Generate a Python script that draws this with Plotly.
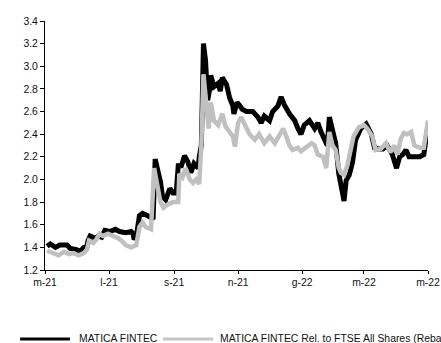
import plotly.graph_objects as go

# MATICA FINTEC (black)
dates_abs = ["2021-05-03","2021-05-06","2021-05-11","2021-05-15","2021-05-22","2021-05-25","2021-05-31",
 "2021-06-03","2021-06-07","2021-06-10","2021-06-11","2021-06-13","2021-06-18","2021-06-21","2021-06-24",
 "2021-06-27","2021-07-02","2021-07-07","2021-07-11","2021-07-17","2021-07-22","2021-07-24","2021-07-25",
 "2021-07-27","2021-07-30","2021-08-02","2021-08-07","2021-08-10","2021-08-12","2021-08-14","2021-08-16",
 "2021-08-19","2021-08-21","2021-08-24","2021-08-28","2021-08-31","2021-09-03","2021-09-05","2021-09-08",
 "2021-09-11","2021-09-14","2021-09-17","2021-09-20","2021-09-24","2021-09-25","2021-09-27","2021-09-29",
 "2021-10-01","2021-10-03","2021-10-05","2021-10-06","2021-10-09","2021-10-13","2021-10-15","2021-10-17",
 "2021-10-21","2021-10-24","2021-10-27","2021-10-28","2021-10-31","2021-11-02","2021-11-05","2021-11-09",
 "2021-11-15","2021-11-20","2021-11-23","2021-11-26","2021-12-01","2021-12-04","2021-12-09","2021-12-12",
 "2021-12-15","2021-12-20","2021-12-25","2021-12-28","2021-12-31","2022-01-03","2022-01-08","2022-01-13",
 "2022-01-16","2022-01-19","2022-01-22","2022-01-25","2022-01-27","2022-01-30","2022-02-02","2022-02-05",
 "2022-02-10","2022-02-12","2022-02-15","2022-02-18","2022-02-21","2022-02-26","2022-03-03","2022-03-08",
 "2022-03-11","2022-03-14","2022-03-19","2022-03-23","2022-03-28","2022-04-01","2022-04-04","2022-04-07",
 "2022-04-10","2022-04-13","2022-04-18","2022-04-23","2022-04-27","2022-05-01"]
values_abs = [1.41,1.43,1.40,1.42,1.42,1.39,1.38,
 1.36,1.40,1.41,1.46,1.50,1.48,1.50,1.49,
 1.55,1.54,1.56,1.54,1.53,1.54,1.52,1.47,
 1.50,1.68,1.70,1.68,1.66,1.65,2.18,2.10,
 1.98,1.85,1.82,1.92,1.88,1.88,2.12,2.12,
 2.21,2.16,2.06,2.14,2.10,2.20,2.30,3.20,
 3.05,2.70,2.80,2.92,2.82,2.85,2.78,2.90,
 2.84,2.72,2.65,2.58,2.68,2.66,2.62,2.60,
 2.60,2.55,2.50,2.56,2.52,2.60,2.65,2.73,
 2.66,2.58,2.52,2.45,2.40,2.48,2.52,2.45,
 2.50,2.42,2.35,2.30,2.55,2.45,2.32,2.05,
 1.81,1.99,2.04,2.15,2.35,2.45,2.49,2.40,
 2.28,2.27,2.27,2.30,2.22,2.10,2.20,2.22,
 2.26,2.20,2.20,2.20,2.22,2.48]

# MATICA FINTEC Rel. to FTSE All Shares (grey)
dates_rel = ["2021-05-03","2021-05-06","2021-05-11","2021-05-14","2021-05-19","2021-05-24","2021-05-28",
 "2021-06-02","2021-06-07","2021-06-10","2021-06-12","2021-06-16","2021-06-19","2021-06-22","2021-06-25",
 "2021-06-30","2021-07-05","2021-07-10","2021-07-14","2021-07-17","2021-07-22","2021-07-27","2021-07-30",
 "2021-08-02","2021-08-05","2021-08-10","2021-08-13","2021-08-16","2021-08-19","2021-08-22","2021-08-26",
 "2021-08-31","2021-09-05","2021-09-06","2021-09-09","2021-09-12","2021-09-16","2021-09-19","2021-09-22",
 "2021-09-25","2021-09-27","2021-09-29","2021-10-01","2021-10-04","2021-10-06","2021-10-09","2021-10-13",
 "2021-10-17","2021-10-20","2021-10-24","2021-10-27","2021-10-29","2021-11-01","2021-11-04","2021-11-09",
 "2021-11-12","2021-11-17","2021-11-21","2021-11-26","2021-12-01","2021-12-06","2021-12-10","2021-12-14",
 "2021-12-17","2021-12-20","2021-12-23","2021-12-28","2021-12-31","2022-01-05","2022-01-10","2022-01-13",
 "2022-01-16","2022-01-21","2022-01-24","2022-01-27","2022-01-30","2022-02-02","2022-02-05","2022-02-07",
 "2022-02-10","2022-02-13","2022-02-16","2022-02-19","2022-02-24","2022-03-01","2022-03-04","2022-03-09",
 "2022-03-12","2022-03-17","2022-03-22","2022-03-26","2022-03-30","2022-04-02","2022-04-05","2022-04-08",
 "2022-04-11","2022-04-15","2022-04-18","2022-04-23","2022-04-27","2022-04-30","2022-05-01"]
values_rel = [1.37,1.36,1.35,1.33,1.36,1.34,1.35,
 1.33,1.35,1.38,1.46,1.44,1.47,1.52,1.50,
 1.52,1.50,1.48,1.45,1.42,1.40,1.42,1.58,
 1.62,1.58,1.56,2.10,1.95,1.80,1.75,1.78,
 1.80,1.80,2.05,2.02,2.10,2.00,1.97,2.00,
 1.96,2.30,2.93,2.70,2.45,2.68,2.52,2.48,
 2.58,2.47,2.42,2.38,2.29,2.50,2.55,2.45,
 2.40,2.35,2.40,2.32,2.38,2.32,2.38,2.45,
 2.38,2.30,2.26,2.28,2.25,2.28,2.32,2.30,
 2.22,2.20,2.10,2.42,2.30,2.26,2.10,2.06,
 2.04,2.12,2.25,2.38,2.46,2.48,2.45,2.38,
 2.26,2.27,2.32,2.24,2.30,2.22,2.36,2.41,
 2.40,2.42,2.30,2.28,2.28,2.50,2.52]

tick_dates = ["2021-05-01","2021-07-01","2021-09-01","2021-11-01","2022-01-01","2022-03-01","2022-05-01"]
tick_labels = ["m-21","l-21","s-21","n-21","g-22","m-22","m-22"]

name_abs = "MATICA FINTEC"
name_rel = "MATICA FINTEC Rel. to FTSE All Shares (Rebased)"

BLACK = "#000000"
GREY = "#c0c0c0"
FONT = "Liberation Sans, Arial, sans-serif"
FS = 10.4

fig = go.Figure()
fig.add_trace(go.Scatter(x=dates_abs, y=values_abs, mode="lines", name=name_abs,
                         line=dict(color=BLACK, width=5), showlegend=False))
fig.add_trace(go.Scatter(x=dates_rel, y=values_rel, mode="lines", name=name_rel,
                         line=dict(color=GREY, width=4.5), showlegend=False))

# manual legend (clipped at the right edge as in the reference)
legend_y = -0.277
fig.add_shape(type="line", xref="paper", yref="paper", x0=-0.065, x1=0.065,
              y0=legend_y, y1=legend_y, line=dict(color=BLACK, width=3))
fig.add_shape(type="line", xref="paper", yref="paper", x0=0.308, x1=0.439,
              y0=legend_y, y1=legend_y, line=dict(color="#c8c8c8", width=3))
fig.add_annotation(xref="paper", yref="paper", x=0.083, y=legend_y, text=name_abs,
                   showarrow=False, xanchor="left", yanchor="middle",
                   font=dict(family=FONT, size=FS, color="#111"))
fig.add_annotation(xref="paper", yref="paper", x=0.452, y=legend_y, text=name_rel,
                   showarrow=False, xanchor="left", yanchor="middle",
                   font=dict(family=FONT, size=FS, color="#111"))

fig.update_layout(
    width=441, height=343, autosize=False,
    margin=dict(l=45, r=13, t=21, b=73, autoexpand=False),
    paper_bgcolor="white", plot_bgcolor="white",
    font=dict(family=FONT, size=FS, color="#111"),
    showlegend=False,
    xaxis=dict(type="date", range=["2021-05-01", "2022-05-01"],
               tickvals=tick_dates, ticktext=tick_labels, automargin=False,
               showgrid=False, zeroline=False, showline=True, linecolor="#000", linewidth=1,
               ticks="outside", ticklen=3, tickcolor="#000"),
    yaxis=dict(range=[1.2, 3.4], dtick=0.2, tick0=1.2, tickformat=".1f", automargin=False,
               showgrid=False, zeroline=False, showline=True, linecolor="#000", linewidth=1,
               ticks="outside", ticklen=4, tickcolor="#000"),
)

fig.write_html("out.html")
